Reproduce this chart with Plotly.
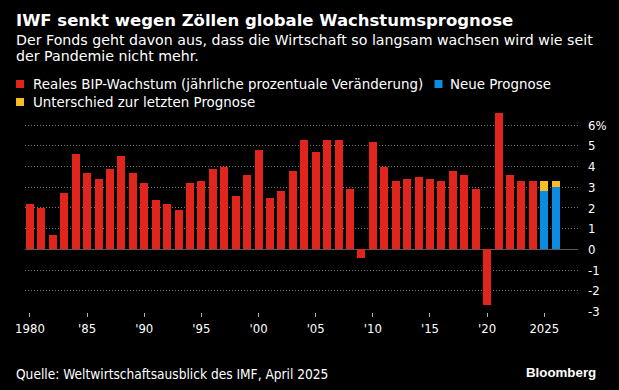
import plotly.graph_objects as go

# ---- data ----
years_actual = list(range(1980, 2025))
growth_actual = [2.2, 2.0, 0.7, 2.7, 4.6, 3.7, 3.4, 3.9, 4.5, 3.7,
                 3.2, 2.4, 2.2, 1.9, 3.2, 3.3, 3.9, 4.0, 2.6, 3.6,
                 4.8, 2.5, 2.8, 3.8, 5.3, 4.7, 5.3, 5.3, 2.9, -0.4,
                 5.2, 4.0, 3.3, 3.4, 3.5, 3.4, 3.3, 3.8, 3.6, 2.9,
                 -2.7, 6.6, 3.6, 3.3, 3.3]
years_forecast = [2025, 2026]
new_forecast = [2.8, 3.0]
diff_previous = [0.5, 0.3]

x_tickvals = [1980, 1985, 1990, 1995, 2000, 2005, 2010, 2015, 2020, 2025]
x_ticktext = ["1980", "'85", "'90", "'95", "'00", "'05", "'10", "'15", "'20", "2025"]
y_tickvals = [-3, -2, -1, 0, 1, 2, 3, 4, 5, 6]
y_ticktext = ["-3", "-2", "-1", "0", "1", "2", "3", "4", "5", "6%"]

legend_labels = ["Reales BIP-Wachstum (jährliche prozentuale Veränderung)",
                 "Neue Prognose", "Unterschied zur letzten Prognose"]

RED = "#e0251d"
BLUE = "#0c8be2"
YELLOW = "#fabd27"
SANS = "DejaVu Sans, Liberation Sans, sans-serif"
COND = "DejaVu Sans Condensed, DejaVu Sans, sans-serif"
LOGO = "Liberation Sans, Arial, sans-serif"

W, H = 619, 390
L, R, T, B = 25, 39, 104, 78
PW, PH = W - L - R, H - T - B


def px(x):
    return (x - L) / PW


def py(y):
    return (H - B - y) / PH


fig = go.Figure()
fig.add_trace(go.Bar(x=years_actual, y=growth_actual, marker_color=RED,
                     marker_line_width=0, width=0.7, name=legend_labels[0]))
fig.add_trace(go.Bar(x=years_forecast, y=new_forecast, marker_color=BLUE,
                     marker_line_width=0, width=0.7, name=legend_labels[1]))
fig.add_trace(go.Bar(x=years_forecast, y=diff_previous, marker_color=YELLOW,
                     marker_line_width=0, width=0.7, name=legend_labels[2]))

ppu = 20.72
ymin = -3.02
ymax = ymin + PH / ppu
xppu = 11.47
xmin = 1980 - 5 / xppu
xmax = xmin + PW / xppu

fig.update_layout(
    width=W, height=H,
    margin=dict(l=L, r=R, t=T, b=B, pad=0),
    paper_bgcolor="#000000", plot_bgcolor="#000000",
    barmode="relative", bargap=0, showlegend=False,
    font=dict(family=SANS, color="#ffffff", size=13),
    xaxis=dict(range=[xmin, xmax], tickmode="array", tickvals=x_tickvals,
               ticktext=x_ticktext, showgrid=False, zeroline=False,
               ticks="outside", ticklen=4, tickwidth=1, tickcolor="#b0b0b0",
               tickfont=dict(size=13, color="#ffffff", family=COND),
               showline=False),
    yaxis=dict(range=[ymin, ymax], side="right", tickmode="array",
               tickvals=y_tickvals, ticktext=y_ticktext, showgrid=False,
               zeroline=True, zerolinecolor="#5a5a5a", zerolinewidth=1,
               ticks="", ticklabelstandoff=9,
               tickfont=dict(size=13, color="#ffffff", family=COND),
               minor=dict(tickmode="array", tickvals=[-2, -1, 1, 2, 3, 4, 5, 6],
                          showgrid=True, gridcolor="#7a7a7a", gridwidth=1,
                          griddash="1px,2px", ticks="")),
)

ann = []
ann.append(dict(x=px(14), y=py(20.5), xref="paper", yref="paper", xanchor="left",
                yanchor="middle", showarrow=False,
                text="<b>IWF senkt wegen Zöllen globale Wachstumsprognose</b>",
                font=dict(size=16.5, family=SANS, color="#ffffff")))
ann.append(dict(x=px(14), y=py(39.5), xref="paper", yref="paper", xanchor="left",
                yanchor="middle", showarrow=False,
                text="Der Fonds geht davon aus, dass die Wirtschaft so langsam wachsen wird wie seit",
                font=dict(size=14.2, family=SANS, color="#ffffff")))
ann.append(dict(x=px(14), y=py(55.5), xref="paper", yref="paper", xanchor="left",
                yanchor="middle", showarrow=False,
                text="der Pandemie nicht mehr.",
                font=dict(size=14.2, family=SANS, color="#ffffff")))
# legend texts
ann.append(dict(x=px(31), y=py(84.5), xref="paper", yref="paper", xanchor="left",
                yanchor="middle", showarrow=False, text=legend_labels[0],
                font=dict(size=13.4, family=SANS, color="#ffffff")))
ann.append(dict(x=px(450), y=py(84.5), xref="paper", yref="paper", xanchor="left",
                yanchor="middle", showarrow=False, text=legend_labels[1],
                font=dict(size=13.4, family=SANS, color="#ffffff")))
ann.append(dict(x=px(31), y=py(102.5), xref="paper", yref="paper", xanchor="left",
                yanchor="middle", showarrow=False, text=legend_labels[2],
                font=dict(size=13.4, family=SANS, color="#ffffff")))
ann.append(dict(x=px(14), y=py(374), xref="paper", yref="paper", xanchor="left",
                yanchor="middle", showarrow=False,
                text="Quelle: Weltwirtschaftsausblick des IMF, April 2025",
                font=dict(size=13.6, family=COND, color="#ffffff")))
ann.append(dict(x=px(600), y=py(372), xref="paper", yref="paper", xanchor="right",
                yanchor="middle", showarrow=False, text="<b>Bloomberg</b>",
                font=dict(size=13.3, family=LOGO, color="#ffffff")))
fig.update_layout(annotations=ann)

shapes = []
for (x0, y0, c) in [(16, 80, RED), (436, 80, BLUE), (16, 98, YELLOW)]:
    shapes.append(dict(type="rect", xref="paper", yref="paper",
                       x0=px(x0), x1=px(x0 + 8), y0=py(y0 + 8), y1=py(y0),
                       fillcolor=c, line=dict(width=0)))
fig.update_layout(shapes=shapes)

fig.write_html("out.html", config={"displayModeBar": False},
               post_script="document.body.style.margin='0px';document.body.style.background='#000';")
